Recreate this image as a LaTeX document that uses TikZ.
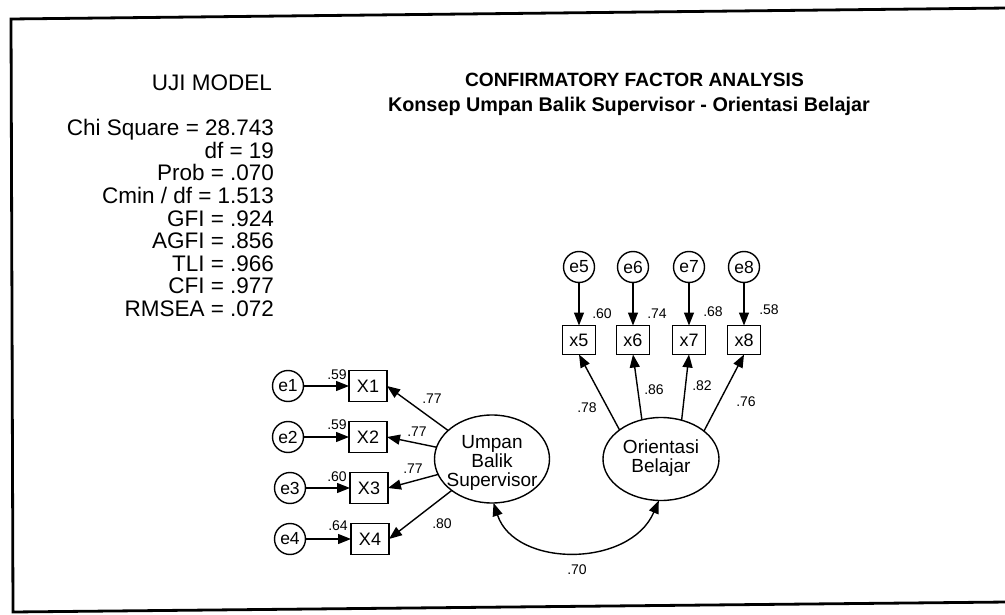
\documentclass[tikz,border=0pt]{standalone}
\usepackage{fontspec}
\setmainfont{Liberation Sans}
\usetikzlibrary{arrows.meta,shapes.geometric}
\begin{document}
\begin{tikzpicture}[x=1pt,y=-1pt,
  every node/.style={inner sep=0pt,outer sep=0pt},
  ln/.style={line width=1.4pt},
  arr/.style={ln,-{Triangle[length=13pt,width=10pt]}},
  errc/.style={circle,draw,line width=1.4pt,minimum size=31pt,font=\fontsize{17.5}{17.5}\selectfont},
  obsbig/.style={rectangle,draw,line width=1.4pt,minimum width=38pt,minimum height=31pt,font=\fontsize{18}{18}\selectfont},
  obssm/.style={rectangle,draw,line width=1.4pt,minimum width=33pt,minimum height=29pt,font=\fontsize{18}{18}\selectfont},
  lat/.style={ellipse,draw,line width=1.4pt},
  lattext/.style={align=center,font=\fontsize{19}{18.7}\selectfont},
  coef/.style={font=\fontsize{14}{14}\selectfont},
  stat/.style={anchor=base east,font=\fontsize{22.5}{22.5}\selectfont},
]
\useasboundingbox (0,0) rectangle (1005,615);
\fill[white] (0,0) rectangle (1005,615);
\draw[line width=2.8pt] (11,19) -- (1008,8) -- (1008,602) -- (13,612) -- cycle;

% titles
\node[anchor=base west,font=\fontsize{19.2}{19.2}\selectfont\bfseries] (t1) at (465,87) {CONFIRMATORY FACTOR ANALYSIS};
\node[anchor=base west,font=\fontsize{19.8}{19.8}\selectfont\bfseries] (t2) at (388,112) {Konsep Umpan Balik Supervisor - Orientasi Belajar};

% stats
\node[stat] (s0) at (272,91) {UJI MODEL};
\node[stat] (s1) at (274,136) {Chi Square = 28.743};
\node[stat] (s2) at (274,158.5) {df = 19};
\node[stat] (s3) at (274,181) {Prob = .070};
\node[stat] (s4) at (274,203.5) {Cmin / df = 1.513};
\node[stat] (s5) at (274,226) {GFI = .924};
\node[stat] (s6) at (274,248.5) {AGFI = .856};
\node[stat] (s7) at (274,271) {TLI = .966};
\node[stat] (s8) at (274,293.5) {CFI = .977};
\node[stat] (s9) at (274,316) {RMSEA = .072};

% latent variables
\node[lat,minimum width=115pt,minimum height=88pt] (U) at (492,459) {};
\node[lattext] (Ut) at (492,463) {Umpan\\Balik\\Supervisor};
\node[lat,minimum width=116pt,minimum height=83pt] (O) at (661,459) {};
\node[lattext] (Ot) at (661,458) {Orientasi\\Belajar};

% left indicators
\node[errc] (e1) at (288,386) {e1};
\node[errc] (e2) at (288,437) {e2};
\node[errc] (e3) at (290,488) {e3};
\node[errc] (e4) at (290,539) {e4};
\node[obsbig] (X1) at (368,386) {X1};
\node[obsbig] (X2) at (368,437) {X2};
\node[obsbig] (X3) at (369,488) {X3};
\node[obsbig] (X4) at (370,539) {X4};

\foreach \i in {1,...,4} \draw[arr] (e\i) -- (X\i);
\draw[arr] (U.147) -- (X1.east);
\draw[arr] (U.168) -- (X2.east);
\draw[arr] (U.196) -- (X3.east);
\draw[arr] (U.218) -- (X4.east);

\node[coef] (r1) at (337,375) {.59};
\node[coef] (r2) at (337,425) {.59};
\node[coef] (r3) at (337,477) {.60};
\node[coef] (r4) at (338,526) {.64};
\node[coef] (l1) at (432,399) {.77};
\node[coef] (l2) at (417,432) {.77};
\node[coef] (l3) at (413,469) {.77};
\node[coef] (l4) at (442,524) {.80};

% right indicators
\node[errc] (e5) at (579,267) {e5};
\node[errc] (e6) at (633,267) {e6};
\node[errc] (e7) at (689,267) {e7};
\node[errc] (e8) at (744,267) {e8};
\node[obssm] (x5) at (579,340) {x5};
\node[obssm] (x6) at (633,340) {x6};
\node[obssm] (x7) at (689,340) {x7};
\node[obssm] (x8) at (744,340) {x8};

\foreach \i in {5,...,8} \draw[arr] (e\i) -- (x\i);
\draw[arr] (O.145) -- (x5.south);
\draw[arr] (O.116) -- (x6.south);
\draw[arr] (O.62) -- (x7.south);
\draw[arr] (O.33) -- (x8.south);

\node[coef] (r5) at (602,314) {.60};
\node[coef] (r6) at (657,314) {.74};
\node[coef] (r7) at (713,312) {.68};
\node[coef] (r8) at (769,310) {.58};
\node[coef] (l5) at (587,408) {.78};
\node[coef] (l6) at (654,390) {.86};
\node[coef] (l7) at (702,386) {.82};
\node[coef] (l8) at (746,402) {.76};

% covariance
\draw[ln,{Triangle[length=13pt,width=10pt]}-{Triangle[length=13pt,width=10pt]}]
  (U.-88) .. controls (515,568) and (630,568) .. (O.-93);
\node[coef] (c1) at (577,570) {.70};
\end{tikzpicture}
\end{document}
